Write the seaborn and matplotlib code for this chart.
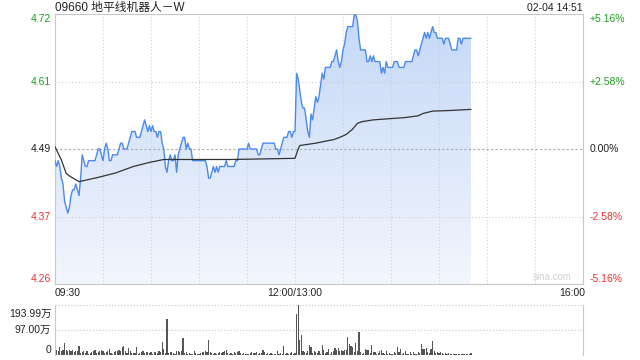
import numpy as np
import matplotlib
matplotlib.use("Agg")
import matplotlib.pyplot as plt
import seaborn as sns
from matplotlib.colors import LinearSegmentedColormap
from matplotlib.transforms import blended_transform_factory

# ---------------- data ----------------
title = "09660 地平线机器人－W"
stamp = "02-04 14:51"
prev_close = 4.49
pct_limit = 5.16
left_labels = ["4.72", "4.61", "4.49", "4.37", "4.26"]
right_labels = ["+5.16%", "+2.58%", "0.00%", "-2.58%", "-5.16%"]
time_labels = ["09:30", "12:00/13:00", "16:00"]
vol_labels = ["193.99万", "97.00万", "0"]
vol_max = 193.99

# minute-by-minute last price (minutes after 09:30, lunch break removed)
price = [
    4.47, 4.46, 4.47, 4.46, 4.44, 4.43, 4.40, 4.39, 4.38, 4.39,
    4.41, 4.42, 4.42, 4.43, 4.42, 4.41, 4.44, 4.48, 4.47, 4.46,
    4.46, 4.47, 4.47, 4.47, 4.47, 4.47, 4.48, 4.49, 4.49, 4.48,
    4.47, 4.49, 4.50, 4.49, 4.47, 4.47, 4.48, 4.48, 4.48, 4.48,
    4.49, 4.50, 4.50, 4.49, 4.49, 4.49, 4.50, 4.51, 4.52, 4.52,
    4.52, 4.51, 4.51, 4.51, 4.52, 4.53, 4.54, 4.53, 4.52, 4.53,
    4.52, 4.53, 4.52, 4.52, 4.51, 4.52, 4.52, 4.50, 4.49, 4.46,
    4.45, 4.47, 4.48, 4.47, 4.47, 4.48, 4.45, 4.48, 4.49, 4.50,
    4.51, 4.51, 4.49, 4.50, 4.49, 4.49, 4.47, 4.47, 4.47, 4.47,
    4.47, 4.47, 4.47, 4.47, 4.47, 4.46, 4.44, 4.44, 4.45, 4.46,
    4.45, 4.46, 4.45, 4.46, 4.46, 4.46, 4.46, 4.47, 4.46, 4.46,
    4.46, 4.46, 4.46, 4.47, 4.47, 4.49, 4.49, 4.49, 4.49, 4.49,
    4.49, 4.50, 4.49, 4.49, 4.49, 4.49, 4.49, 4.48, 4.48, 4.49,
    4.50, 4.50, 4.50, 4.50, 4.50, 4.50, 4.50, 4.50, 4.49, 4.49,
    4.48, 4.49, 4.50, 4.51, 4.51, 4.51, 4.52, 4.52, 4.51, 4.52,
    4.52, 4.62, 4.61, 4.59, 4.57, 4.56, 4.56, 4.54, 4.52, 4.51,
    4.55, 4.54, 4.56, 4.58, 4.57, 4.58, 4.60, 4.62, 4.61, 4.63,
    4.63, 4.63, 4.63, 4.64, 4.64, 4.65, 4.66, 4.64, 4.63, 4.64,
    4.66, 4.67, 4.69, 4.70, 4.70, 4.70, 4.70, 4.72, 4.72, 4.71,
    4.68, 4.66, 4.66, 4.66, 4.66, 4.64, 4.64, 4.65, 4.64, 4.65,
    4.64, 4.64, 4.64, 4.64, 4.62, 4.63, 4.62, 4.64, 4.63, 4.63,
    4.63, 4.63, 4.64, 4.64, 4.64, 4.63, 4.63, 4.63, 4.63, 4.64,
    4.64, 4.64, 4.64, 4.64, 4.65, 4.66, 4.66, 4.65, 4.66, 4.67,
    4.68, 4.69, 4.68, 4.69, 4.68, 4.69, 4.70, 4.69, 4.69, 4.68,
    4.68, 4.68, 4.68, 4.67, 4.68, 4.68, 4.68, 4.67, 4.66, 4.66,
    4.66, 4.66, 4.68, 4.68, 4.67, 4.68, 4.68, 4.68, 4.68, 4.68,
    4.68,
]

# average price line (minute, value)
avg_t = [0, 4, 7, 10, 15, 20, 28, 38, 49, 59, 68, 80, 90, 110, 130, 150,
         152, 153, 163, 170, 174, 178, 182, 186, 189, 192, 199, 209, 219,
         227, 230, 236, 246, 253, 260]
avg_v = [4.494, 4.471, 4.448, 4.442, 4.434, 4.437, 4.442, 4.449, 4.460,
         4.467, 4.472, 4.472, 4.472, 4.472, 4.473, 4.474, 4.490, 4.496,
         4.500, 4.504, 4.506, 4.510, 4.515, 4.524, 4.534, 4.537, 4.540,
         4.542, 4.544, 4.547, 4.551, 4.555, 4.556, 4.557, 4.558]

# minute volume (万股)
volume = [
    80, 19, 15, 30, 15, 19, 45, 19, 15, 19,
    15, 19, 10, 13, 13, 35, 6, 10, 15, 6,
    15, 3, 6, 10, 13, 17, 6, 10, 13, 17,
    13, 6, 10, 13, 23, 6, 4, 10, 15, 13,
    17, 13, 28, 32, 13, 6, 26, 15, 8, 6,
    6, 30, 4, 6, 10, 13, 6, 9, 10, 6,
    9, 4, 9, 9, 6, 13, 9, 49, 23, 8,
    138, 6, 10, 9, 6, 4, 13, 13, 10, 13,
    65, 6, 9, 4, 6, 3, 4, 13, 6, 4,
    3, 6, 10, 10, 13, 10, 58, 10, 6, 4,
    6, 4, 6, 10, 6, 9, 13, 20, 6, 4,
    6, 4, 10, 6, 9, 13, 6, 4, 6, 4,
    3, 4, 6, 9, 6, 6, 9, 4, 6, 6,
    17, 9, 4, 6, 4, 6, 3, 4, 3, 13,
    4, 6, 3, 32, 4, 6, 3, 6, 10, 3,
    6, 159, 193.99, 58, 78, 15, 10, 6, 13, 39,
    30, 6, 13, 10, 6, 15, 3, 36, 17, 6,
    10, 22, 4, 9, 15, 26, 17, 26, 13, 19,
    13, 19, 17, 69, 41, 35, 28, 10, 45, 13,
    88, 10, 4, 6, 22, 17, 17, 6, 39, 10,
    10, 4, 6, 15, 17, 6, 3, 15, 4, 6,
    3, 4, 9, 6, 30, 10, 22, 4, 6, 15,
    4, 3, 9, 4, 10, 4, 4, 9, 6, 43,
    22, 23, 26, 10, 6, 22, 54, 15, 6, 10,
    6, 10, 6, 4, 6, 4, 5, 4, 3, 4,
    3, 4, 3, 4, 3, 4, 3, 4, 4, 4,
    6,
]

# ---------------- style ----------------
sns.set_theme(style="white")
plt.rcParams['font.family'] = ['Liberation Sans', 'Noto Sans CJK SC', 'DejaVu Sans']

GREEN = '#1f9e1f'
RED = '#ee3333'
BLUE = '#4a8af0'
GRID = '#cfcfcf'
BORDER = '#c8c8c8'
FS = 7.5

minutes = np.arange(len(price))
total_minutes = 330
ylo = prev_close * (1 - pct_limit / 100)
yhi = prev_close * (1 + pct_limit / 100)
levels = [prev_close * (1 + k * pct_limit / 200) for k in (2, 1, 0, -1, -2)]

fig = plt.figure(figsize=(6.4, 3.6), dpi=100)
ax = fig.add_axes([55 / 640, 1 - 284 / 360, 528 / 640, 270 / 360])
axv = fig.add_axes([55 / 640, 1 - 354.7 / 360, 528 / 640, 50 / 360])

# gradient fill under price
poly = ax.fill_between(minutes, price, ylo, facecolor='none', edgecolor='none')
clip_path = poly.get_paths()[0]
cmap = LinearSegmentedColormap.from_list('g', ['#f3f6fd', '#c4d8f7'])
grad = np.linspace(1, 0, 256).reshape(-1, 1)
im = ax.imshow(grad, extent=[0, minutes[-1], ylo, yhi], aspect='auto',
               cmap=cmap, origin='upper', zorder=1)
im.set_clip_path(clip_path, transform=ax.transData)

# grid (drawn over the fill)
for m in range(30, total_minutes, 30):
    ax.axvline(m, color=GRID, lw=0.8, ls=(0, (1, 2)), zorder=2)
for k, lv in zip((1, 0, -1), levels[1:4]):
    if k == 0:
        ax.axhline(lv, color='#aaaaaa', lw=0.8, ls=(0, (2, 2)), zorder=2)
    else:
        ax.axhline(lv, color=GRID, lw=0.8, ls=(0, (1, 2)), zorder=2)

sns.lineplot(x=minutes, y=price, ax=ax, color=BLUE, lw=1.0, zorder=3)
sns.lineplot(x=avg_t, y=avg_v, ax=ax, color='#333333', lw=0.9, zorder=4)

ax.set_xlim(0, total_minutes)
ax.set_ylim(ylo, yhi)
ax.set_xticks([])
ax.set_yticks([])
ax.set_xlabel('')
ax.set_ylabel('')
for s in ax.spines.values():
    s.set_visible(True)
    s.set_color(BORDER)
    s.set_linewidth(0.8)

# y labels
tr = blended_transform_factory(ax.transAxes, ax.transData)
lcolors = [GREEN, GREEN, '#222222', RED, RED]
vas = ['top', 'center', 'center', 'center', 'bottom']
for lab, rlab, lv, c, va in zip(left_labels, right_labels, levels, lcolors, vas):
    ax.text(-0.007, lv, lab, transform=tr, ha='right', va=va, color=c, fontsize=FS)
    ax.text(1.013, lv, rlab, transform=tr, ha='left', va=va, color=c, fontsize=FS)

ax.text(0.942, 0.027, 'sina.com', transform=ax.transAxes, ha='center', va='center',
        color='#d2d2d2', fontsize=7)

# header
fig.text(55 / 640, 1 - 8 / 360, title, ha='left', va='center', fontsize=8.5, color='#222222')
fig.text(583 / 640, 1 - 8 / 360, stamp, ha='right', va='center', fontsize=FS, color='#222222')

# time labels
ty = 1 - 293 / 360
fig.text(55 / 640, ty, time_labels[0], ha='left', va='center', fontsize=FS, color='#222222')
fig.text(295 / 640, ty, time_labels[1], ha='center', va='center', fontsize=FS, color='#222222')
fig.text(585 / 640, ty, time_labels[2], ha='right', va='center', fontsize=FS, color='#222222')

# volume
sns.barplot(x=minutes, y=volume, ax=axv, native_scale=True, color='#555555',
            width=0.65, errorbar=None, saturation=1, linewidth=0)
for p in axv.patches:
    p.set_antialiased(False)
axv.set_xlim(0, total_minutes)
axv.set_ylim(0, vol_max)
axv.set_xticks([])
axv.set_yticks([])
axv.set_xlabel('')
axv.set_ylabel('')
for name, s in axv.spines.items():
    if name in ('left', 'right'):
        s.set_visible(True)
        s.set_color(BORDER)
        s.set_linewidth(0.8)
    else:
        s.set_visible(False)
axv.axhline(vol_max, color=GRID, lw=0.9, ls=(0, (1, 1.5)), clip_on=False, zorder=0.5)
axv.axhline(vol_max / 2, color=GRID, lw=0.9, ls=(0, (1, 1.5)), zorder=0.5)

trv = blended_transform_factory(axv.transAxes, axv.transData)
vol_offsets = [-3, 0, 0]
for lab, lv, va, off in zip(vol_labels, [vol_max, vol_max / 2, 0], ['top', 'center', 'bottom'], vol_offsets):
    axv.annotate(lab, xy=(-0.007, lv), xycoords=trv, xytext=(0, off), textcoords='offset points',
                 ha='right', va=va, fontsize=FS, color='#222222')

fig.savefig('out.png', dpi=100, facecolor='white')
